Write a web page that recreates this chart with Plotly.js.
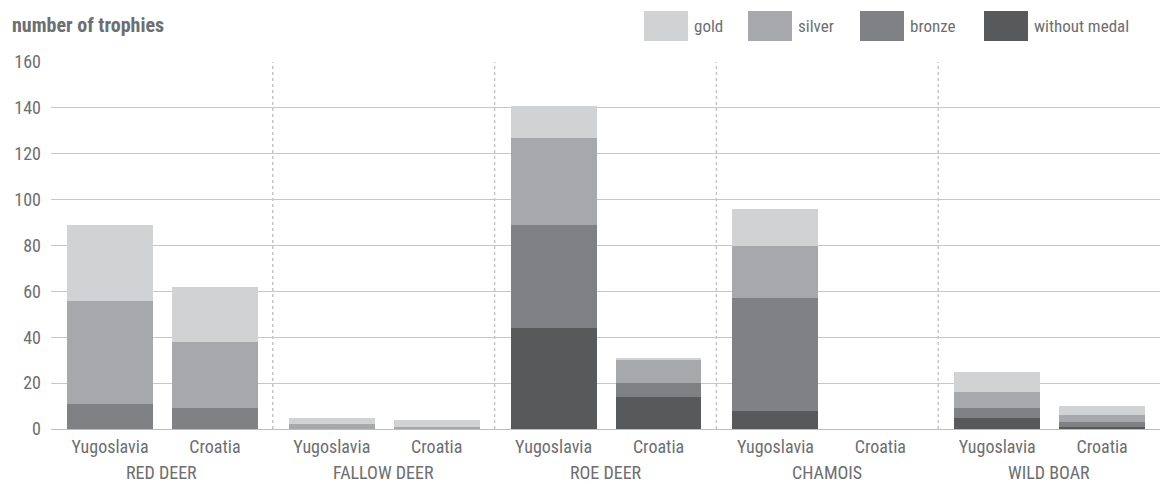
<!DOCTYPE html>
<html>
<head>
<meta charset="utf-8">
<script src="https://cdn.plot.ly/plotly-3.0.1.min.js"></script>
<style>
html,body{margin:0;padding:0;background:#fff;}
#chart{width:1160px;height:484px;}
</style>
</head>
<body>
<div id="chart"></div>
<script>
// ---- data ----
const species = ["RED DEER", "FALLOW DEER", "ROE DEER", "CHAMOIS", "WILD BOAR"];
const countries = ["Yugoslavia", "Croatia"];
// values per bar in order: [RD-Yu, RD-Cr, FD-Yu, FD-Cr, RO-Yu, RO-Cr, CH-Yu, CH-Cr, WB-Yu, WB-Cr]
const withoutMedal = [0, 0, 0, 0, 44, 14, 8, 0, 5, 1];
const bronze       = [11, 9, 0, 0, 45, 6, 49, 0, 4, 2];
const silver       = [45, 29, 2, 1, 38, 10, 23, 0, 7, 3];
const gold         = [33, 24, 3, 3, 14, 1, 16, 0, 9, 4];
const seriesNames  = ["without medal", "bronze", "silver", "gold"];
const yTicks = [0, 20, 40, 60, 80, 100, 120, 140, 160];

// ---- style ----
const colors = {"gold": "#d1d2d4", "silver": "#a7a8ab", "bronze": "#808184", "without medal": "#58595b"};
const FONT = "'Roboto Condensed', 'Liberation Sans Narrow', 'Arial Narrow', 'DejaVu Sans Condensed', sans-serif";
const TXT = "#6d6e71";
const offsets = [0.266, 0.739];
const barW = 0.387;

const xs = [], xt = [];
species.forEach((s, g) => countries.forEach((c, i) => { xs.push(g + offsets[i]); xt.push(c); }));

const valuesBySeries = {"without medal": withoutMedal, "bronze": bronze, "silver": silver, "gold": gold};
const traces = seriesNames.map(n => ({
  type: "bar", name: n, x: xs, y: valuesBySeries[n], width: barW,
  marker: {color: colors[n], line: {width: 0}}, hoverinfo: "y+name"
}));

const L = 51, T = 62, B = 55, W = 1160, H = 484;
const plotW = W - L, plotH = H - T - B;
const px2x = p => (p - L) / plotW;
const px2y = p => (H - B - p) / plotH;

const shapes = [];
const annotations = [];
// group dividers
for (let g = 1; g < species.length; g++) {
  shapes.push({type: "line", xref: "x", yref: "paper", x0: g, x1: g, y0: 0, y1: 1,
    line: {color: "#c4c5c7", width: 1.5, dash: "dot"}, layer: "below"});
}
// group labels
species.forEach((s, g) => annotations.push({
  text: s, xref: "x", yref: "paper", x: g + 0.5, y: 0, yanchor: "middle", yshift: -43,
  showarrow: false, font: {family: FONT, size: 18, color: TXT}
}));
// legend (custom boxes)
const legendOrder = ["gold", "silver", "bronze", "without medal"];
const legendLeft = [644, 748, 860, 984];
legendOrder.forEach((n, i) => {
  shapes.push({type: "rect", xref: "paper", yref: "paper",
    x0: px2x(legendLeft[i]), x1: px2x(legendLeft[i] + 44), y0: px2y(41), y1: px2y(11),
    fillcolor: colors[n], line: {width: 0}});
  annotations.push({text: n, xref: "paper", yref: "paper", x: px2x(legendLeft[i] + 48), y: px2y(26),
    xanchor: "left", yanchor: "middle", showarrow: false, font: {family: FONT, size: 17, color: TXT}});
});
// y title
annotations.push({text: "<b>number of trophies</b>", xref: "paper", yref: "paper",
  x: px2x(10), y: px2y(25), xanchor: "left", yanchor: "middle", showarrow: false,
  font: {family: FONT, size: 20, color: TXT}});

const layout = {
  width: W, height: H,
  margin: {l: L, r: 0, t: T, b: B, pad: 0},
  paper_bgcolor: "#fff", plot_bgcolor: "#fff",
  barmode: "stack", showlegend: false,
  font: {family: FONT, size: 18, color: TXT},
  xaxis: {range: [0, species.length], tickmode: "array", tickvals: xs, ticktext: xt,
    showgrid: false, zeroline: false, showline: false, ticks: "", ticklabelstandoff: 5,
    tickfont: {family: FONT, size: 18, color: TXT}, fixedrange: true},
  yaxis: {range: [0, 160], tickmode: "array", tickvals: yTicks, showgrid: true,
    gridcolor: "#c6c7c9", gridwidth: 1, zeroline: true, zerolinecolor: "#bcbdc0", zerolinewidth: 1,
    showline: false, ticks: "", ticklabelstandoff: 9,
    tickfont: {family: FONT, size: 18, color: TXT}, fixedrange: true},
  shapes: shapes, annotations: annotations
};

Plotly.newPlot("chart", traces, layout, {displayModeBar: false, staticPlot: true});
</script>
</body>
</html>
